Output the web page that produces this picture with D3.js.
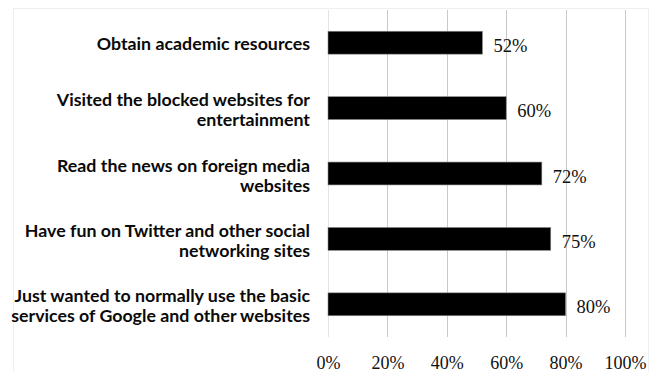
<!DOCTYPE html>
<html>
<head>
<meta charset="utf-8">
<script src="https://cdn.jsdelivr.net/npm/d3@7"></script>
<style>
  body { margin: 0; background: #fff; }
</style>
</head>
<body>
<svg id="chart" width="659" height="372"></svg>
<script>
// data
var categories = [
    ["Obtain academic resources"],
    ["Visited the blocked websites for", "entertainment"],
    ["Read the news on foreign media", "websites"],
    ["Have fun on Twitter and other social", "networking sites"],
    ["Just wanted to normally use the basic", "services of Google and other websites"]
];
var values = [52, 60, 72, 75, 80];
var tickValues = [0, 20, 40, 60, 80, 100];

var svg = d3.select("#chart");

// faint outer border
svg.append("rect")
    .attr("x", 13.5)
    .attr("y", 8.5)
    .attr("width", 635)
    .attr("height", 372)
    .attr("fill", "none")
    .attr("stroke", "#eeeeee");

var x = d3.scaleLinear().domain([0, 100]).range([328, 625]);
var y = d3.scaleBand()
    .domain(d3.range(categories.length))
    .range([10, 337])
    .paddingInner(0.65)
    .paddingOuter(0.325);

// vertical gridlines
svg.selectAll(".grid")
    .data(tickValues)
    .enter().append("line")
    .attr("class", "grid")
    .attr("x1", d => Math.round(x(d)) + 0.5)
    .attr("x2", d => Math.round(x(d)) + 0.5)
    .attr("y1", 10)
    .attr("y2", 337)
    .attr("stroke", d => d == 0 ? "#e4e4e4" : "#c8c8c8")
    .attr("stroke-width", 1);

// bars
svg.selectAll(".bar")
    .data(values)
    .enter().append("rect")
    .attr("class", "bar")
    .attr("x", x(0))
    .attr("y", (d, i) => y(i))
    .attr("width", d => x(d) - x(0))
    .attr("height", y.bandwidth())
    .attr("fill", "#000")
    .attr("stroke", "#8a8a8a")
    .attr("stroke-width", 0.6);

// value labels
svg.selectAll(".val")
    .data(values)
    .enter().append("text")
    .attr("class", "val")
    .attr("x", d => x(d) + 11)
    .attr("y", (d, i) => y(i) + y.bandwidth() / 2 + 9)
    .attr("font-family", "'Liberation Serif', 'Times New Roman', serif")
    .attr("font-size", "18.5px")
    .attr("fill", "#111")
    .text(d => d + "%");

// category labels
var cat = svg.selectAll(".cat")
    .data(categories)
    .enter().append("text")
    .attr("class", "cat")
    .attr("text-anchor", "end")
    .attr("font-family", "Lato, 'Open Sans', sans-serif")
    .attr("font-weight", "bold")
    .attr("font-size", "17.8px")
    .attr("fill", "#0a0a0a");

cat.each(function(lines, i) {
    var c = y(i) + y.bandwidth() / 2;
    var first = lines.length == 1 ? c + 7 : c - 2;
    d3.select(this).selectAll("tspan")
        .data(lines)
        .enter().append("tspan")
        .attr("x", 310)
        .attr("y", (d, j) => first + j * 20)
        .text(d => d);
});

// x axis labels
var axis = d3.axisBottom(x)
    .tickValues(tickValues)
    .tickSize(0)
    .tickPadding(0)
    .tickFormat(d => d + "%");

var ax = svg.append("g")
    .attr("transform", "translate(0,355)")
    .call(axis);
ax.select(".domain").remove();
ax.selectAll("text")
    .attr("dy", 0)
    .attr("y", 14)
    .attr("font-family", "'Liberation Serif', 'Times New Roman', serif")
    .attr("font-size", "18px")
    .attr("fill", "#111");
</script>
</body>
</html>
